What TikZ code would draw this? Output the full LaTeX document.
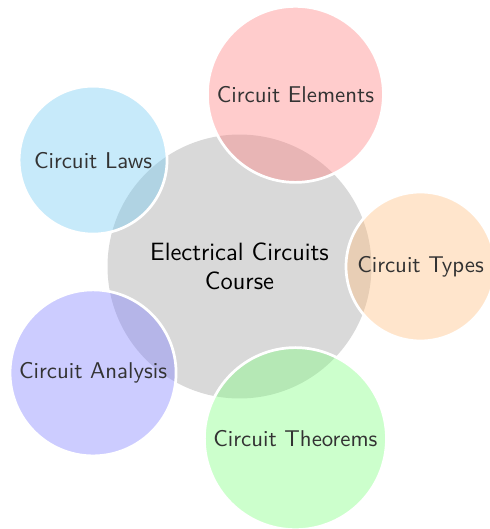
\documentclass[tikz,border=0pt]{standalone}
\usepackage{xcolor}
\usepackage{tikz}
\usetikzlibrary{calc}

\definecolor{lawsblue}{RGB}{115,202,242}

\tikzset{
    bubble/.style={
        circle,
        draw=white,
        line width=1.3pt,
        fill opacity=0.4,
        text opacity=1,
        text=black!80,
        font=\sffamily\fontsize{10.95}{13.6}\selectfont,
        inner sep=0pt
    }
}

\begin{document}
\begin{tikzpicture}[x=0.48pt,y=0.48pt]
        \useasboundingbox (-239.5,-262.5) rectangle (250.5,266.5);
        % centre
        \node[
            circle,
            fill=gray!30,
            minimum size=126.7pt,
            align=center,
            font=\sffamily\fontsize{12}{14}\selectfont,
            inner sep=0pt
        ] (course) {Electrical Circuits\\Course};
        % topics round it
        \node[bubble, fill=red!50, minimum size=84.5pt]
            (elements) at ($(course)+(72:181)$) {Circuit Elements};
        \node[bubble, fill=orange!50, minimum size=71.5pt]
            (types) at ($(course)+(0:181)$) {Circuit Types};
        \node[bubble, fill=green!50, minimum size=87.4pt]
            (theorems) at ($(course)+(-72:181)$) {Circuit Theorems};
        \node[bubble, fill=blue!50, minimum size=79.7pt]
            (analysis) at ($(course)+(216:181)$) {Circuit Analysis};
        \node[bubble, fill=lawsblue, minimum size=71pt]
            (laws) at ($(course)+(144:181)$) {Circuit Laws};
    \end{tikzpicture}
\end{document}
